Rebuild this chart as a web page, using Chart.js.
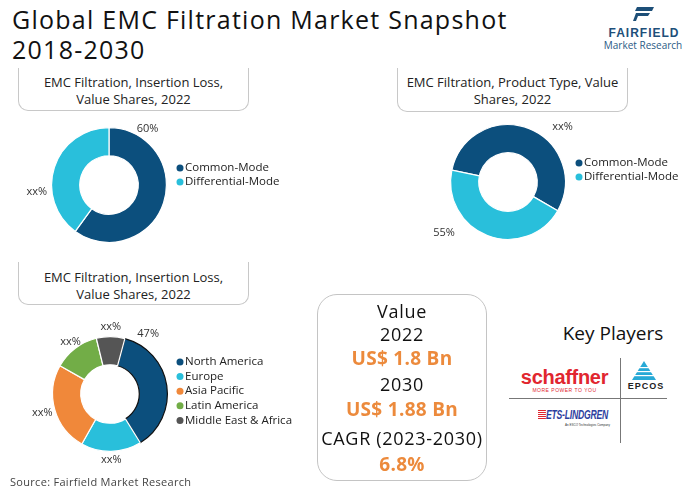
<!DOCTYPE html>
<html>
<head>
<meta charset="utf-8">
<script src="https://cdn.jsdelivr.net/npm/chart.js@4.4.1/dist/chart.umd.min.js"></script>
<style>
  body { margin: 0; background: #fff; font-family: "Open Sans", sans-serif; color: #222; }
  #page { position: relative; width: 700px; height: 491px; overflow: hidden; }
  .abs { position: absolute; }
  .title { left: 12px; top: 4px; font-size: 25px; line-height: 30px; color: #111; letter-spacing: 1.25px; }
  .cap { border: 1px solid #c8c8c8; border-top: none; border-radius: 0 0 10px 10px;
         font-size: 13px; line-height: 17px; text-align: center; color: #222; box-sizing: border-box; }
  .valbox { left: 317px; top: 294px; width: 170px; height: 187px; border: 1px solid #c4c4c4;
            border-radius: 20px; box-sizing: border-box; text-align: center; }
  .valbox div { position: absolute; left: 0; width: 100%; font-size: 18px; line-height: 20px; color: #111; letter-spacing: 0.7px; }
  .valbox .hi { color: #ec8a3c; font-weight: 700; font-size: 19px; letter-spacing: 0.3px; }
  canvas { position: absolute; }
</style>
</head>
<body>
<div id="page">
  <div class="abs title">Global EMC Filtration Market Snapshot<br>2018-2030</div>

  <!-- fairfield logo -->
  <svg class="abs" style="left:633px;top:7px" width="22" height="14" viewBox="0 0 22 14">
    <polygon points="4,0 21,0 19,4 2,4" fill="#1d4f78"/>
    <polygon points="3,6 17,6 15,9 5,9 3,14 0,14" fill="#1d4f78"/>
  </svg>
  <div class="abs" style="left:601px;top:26px;width:86px;text-align:center;font:700 12px 'Liberation Sans',sans-serif;letter-spacing:1px;color:#1e4f7a">FAIRFIELD</div>
  <div class="abs" style="left:597px;top:38px;width:92px;text-align:center;font-size:10px;color:#2b5b86">Market Research</div>

  <div class="abs cap" style="left:18px;top:68px;width:231px;height:43px;padding-top:6px">EMC Filtration, Insertion Loss,<br>Value Shares, 2022</div>
  <div class="abs cap" style="left:397px;top:68px;width:231px;height:44px;padding-top:6px">EMC Filtration, Product Type, Value<br>Shares, 2022</div>
  <div class="abs cap" style="left:18px;top:262px;width:231px;height:43px;padding-top:7px">EMC Filtration, Insertion Loss,<br>Value Shares, 2022</div>

  <canvas id="chartInsertion" style="left:0;top:110px" width="330" height="150"></canvas>
  <canvas id="chartProduct" style="left:380px;top:110px" width="320" height="150"></canvas>
  <canvas id="chartRegion" style="left:0;top:310px" width="320" height="165"></canvas>

  <div class="abs valbox">
    <div style="top:6px">Value</div>
    <div style="top:29px">2022</div>
    <div class="hi" style="top:53px">US$ 1.8 Bn</div>
    <div style="top:79px">2030</div>
    <div class="hi" style="top:104px">US$ 1.88 Bn</div>
    <div style="top:133px">CAGR (2023-2030)</div>
    <div class="hi" style="top:159px">6.8%</div>
  </div>

  <div class="abs" style="left:553px;top:320px;width:120px;text-align:center;font-size:19px;color:#111">Key Players</div>
  <div class="abs" style="left:620px;top:358px;width:1px;height:85px;background:#777"></div>
  <div class="abs" style="left:509px;top:398px;width:158px;height:1px;background:#777"></div>

  <div class="abs" style="left:512px;top:366px;width:105px;text-align:center;font:700 20px 'Liberation Sans',sans-serif;color:#e1262f;letter-spacing:-0.3px">schaffner</div>
  <div class="abs" style="left:512px;top:387px;width:105px;text-align:center;font:5px 'Liberation Sans',sans-serif;color:#e1262f;letter-spacing:0.5px">MORE POWER TO YOU</div>

  <svg class="abs" style="left:632px;top:361px" width="24" height="19" viewBox="0 0 24 19">
    <polygon points="12,0 24,19 0,19" fill="#27a9d6"/>
    <rect x="0" y="6" width="24" height="1.2" fill="#fff"/>
    <rect x="0" y="10" width="24" height="1.2" fill="#fff"/>
    <rect x="0" y="14" width="24" height="1.2" fill="#fff"/>
  </svg>
  <div class="abs" style="left:624px;top:381px;width:44px;text-align:center;font:700 9px 'Liberation Sans',sans-serif;letter-spacing:1px;color:#222">EPCOS</div>

  <div class="abs" style="left:538px;top:408px;white-space:nowrap;font:italic 700 12px 'Liberation Sans',sans-serif;color:#2c3e9e;letter-spacing:-0.3px;transform:scaleX(0.72);transform-origin:left top">
    <span style="display:inline-block;width:11px;height:10px;background:repeating-linear-gradient(#e1262f 0 1px,#fff 1px 2px);vertical-align:-1px"></span>ETS-LINDGREN</div>
  <div class="abs" style="left:565px;top:423px;white-space:nowrap;font:3px sans-serif;color:#333">An ESCO Technologies Company</div>

  <div class="abs" style="left:10px;top:474px;font-size:11px;color:#444;letter-spacing:0.3px">Source: Fairfield Market Research</div>
</div>

<script>
const insertionLabels = ['Common-Mode', 'Differential-Mode'];
const insertionShares = [60, 40];
const insertionText = ['60%', 'xx%'];

const productLabels = ['Common-Mode', 'Differential-Mode'];
const productShares = [55, 45];
const productText = ['xx%', '55%'];

const regionLabels = ['North America', 'Europe', 'Asia Pacific', 'Latin America', 'Middle East & Africa'];
const regionShares = [37, 17, 25, 13, 8];
const regionText = ['47%', 'xx%', 'xx%', 'xx%', 'xx%'];

const DARK = '#0c4f7d', CYAN = '#29bfdb', ORANGE = '#f0883a', GREEN = '#72ad47', GREY = '#555555';

// percent labels around the ring, placed along each arc
const ringLabels = {
    id: 'ringLabels',
    afterDatasetsDraw(chart, args, opts) {
        const ctx = chart.ctx;
        const arcs = chart.getDatasetMeta(0).data;
        ctx.save();
        ctx.font = '11px "Open Sans"';
        ctx.fillStyle = '#333';
        ctx.textAlign = 'center';
        ctx.textBaseline = 'middle';
        arcs.forEach((arc, i) => {
            const p = arc.getProps(['x', 'y', 'startAngle', 'endAngle', 'outerRadius'], true);
            const a = p.startAngle + opts.anchor[i] * (p.endAngle - p.startAngle);
            const r = p.outerRadius + opts.offset[i];
            ctx.fillText(opts.text[i], p.x + Math.cos(a) * r, p.y + Math.sin(a) * r);
        });
        ctx.restore();
    }
};

// legend to the right of the ring
const sideLegend = {
    id: 'sideLegend',
    afterDraw(chart, args, opts) {
        const ctx = chart.ctx;
        const arc = chart.getDatasetMeta(0).data[0];
        const colors = chart.data.datasets[0].backgroundColor;
        const x = arc.x + opts.dx;
        ctx.save();
        ctx.font = '11.5px "Open Sans"';
        ctx.textBaseline = 'middle';
        chart.data.labels.forEach((lab, i) => {
            const y = arc.y + opts.dy + i * opts.step;
            ctx.fillStyle = colors[i];
            ctx.beginPath();
            ctx.arc(x, y, 3.5, 0, Math.PI * 2);
            ctx.fill();
            ctx.fillStyle = '#222';
            ctx.fillText(lab, x + 5, y);
        });
        ctx.restore();
    }
};

function makeDonut(id, labels, values, colors, borders, rotation, padding, labelOpts, legendOpts) {
    const ctx = document.getElementById(id).getContext('2d');
    return new Chart(ctx, {
        type: 'doughnut',
        data: {
            labels: labels,
            datasets: [{
                data: values,
                backgroundColor: colors,
                borderColor: borders,
                borderWidth: 1.2
            }]
        },
        options: {
            responsive: false,
            animation: false,
            cutout: '51%',
            rotation: rotation,
            layout: { padding: padding },
            plugins: {
                legend: { display: false },
                tooltip: { enabled: false },
                ringLabels: labelOpts,
                sideLegend: legendOpts
            }
        },
        plugins: [ringLabels, sideLegend]
    });
}

// chart 1: center (109,185) r 58 -> canvas top 110
makeDonut('chartInsertion', insertionLabels, insertionShares, [DARK, CYAN], ['#fff', '#fff'], 0,
    { left: 51, right: 330 - 167, top: 17, bottom: 150 - 133 },
    { text: insertionText, anchor: [0.16, 0.34], offset: [10.5, 15] },
    { dx: 71, dy: -17, step: 14 });

// chart 2: center (508,182) r 58 -> canvas left 380 top 110
makeDonut('chartProduct', productLabels, productShares, [DARK, CYAN], ['#fff', '#fff'], -78,
    { left: 70, right: 320 - 186, top: 14, bottom: 150 - 130 },
    { text: productText, anchor: [0.62, 0.69], offset: [20, 24] },
    { dx: 71, dy: -19, step: 14 });

// chart 3: center (110,394) r 58 -> canvas top 310
makeDonut('chartRegion', regionLabels, regionShares, [DARK, CYAN, ORANGE, GREEN, GREY],
    ['#111', '#fff', '#fff', '#fff', '#fff'], 15,
    { left: 52, right: 320 - 168, top: 26, bottom: 165 - 142 },
    { text: regionText, anchor: [0.13, 0.5, 0.5, 0.5, 0.5], offset: [14, 8.5, 13, 8, 9.5] },
    { dx: 70, dy: -32, step: 14.6 });
</script>
</body>
</html>
